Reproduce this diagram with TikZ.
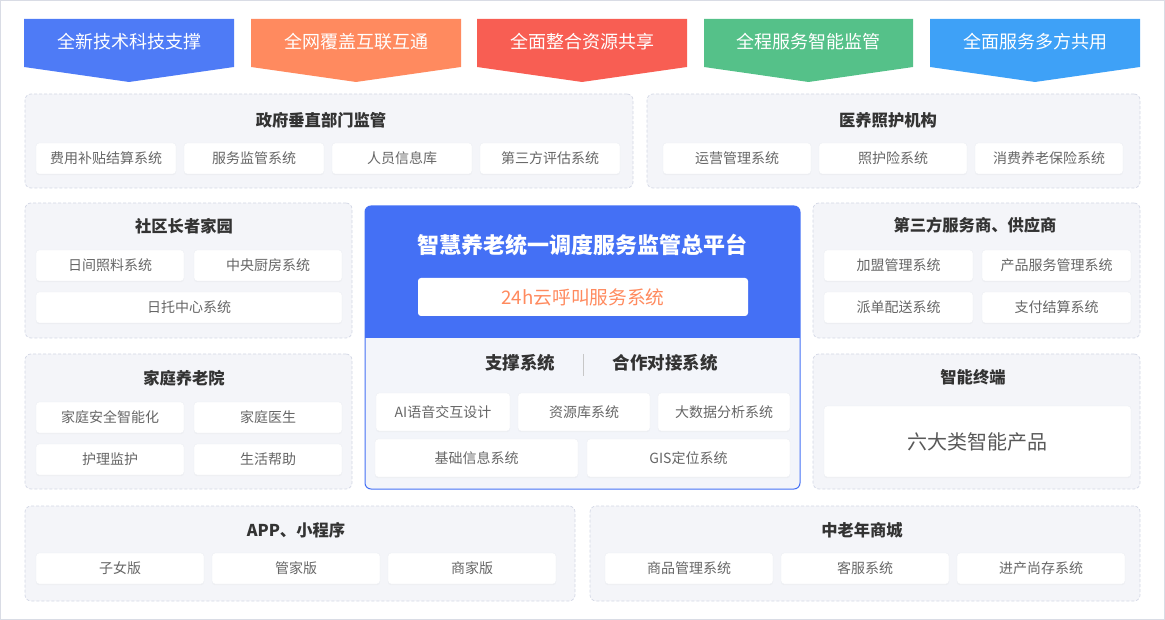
\documentclass[tikz,border=0pt]{standalone}
\usepackage{fontspec}
\setmainfont{Noto Sans CJK SC}
\usetikzlibrary{shadows}
\definecolor{bA}{HTML}{4E7BF6}
\definecolor{bB}{HTML}{FF8A5F}
\definecolor{bC}{HTML}{F85E53}
\definecolor{bD}{HTML}{55C189}
\definecolor{bE}{HTML}{3EA1F7}
\definecolor{cblue}{HTML}{4470F5}
\definecolor{pfill}{HTML}{F4F5F9}
\definecolor{pline}{HTML}{D3D7E5}
\definecolor{outer}{HTML}{D9DCE5}
\definecolor{ttext}{HTML}{333333}
\definecolor{stext}{HTML}{666666}
\definecolor{otext}{HTML}{FF8A5E}
\definecolor{lowfill}{HTML}{F3F5FA}
\definecolor{sline}{HTML}{ECEEF3}
\newcommand\mkbox[7]{%
  \node[#6, minimum width={#4pt-#2pt}, minimum height={#5pt-#3pt}] (#1) at ({(#2+#4)/2},{(#3+#5)/2}) {#7};}
\newcommand\mkbanner[5]{%
  \fill[#4] (#2,19) -- (#3,19) -- (#3,67) -- ({(#2+#3)/2},82) -- (#2,67) -- cycle;
  \node[bannertext] (#1) at ({(#2+#3)/2},42) {#5};}
\begin{document}
\begin{tikzpicture}[x=1pt,y=-1pt,
  panel/.style={draw=pline, fill=pfill, dash pattern=on 3pt off 2pt, line width=0.7pt, rounded corners=6pt, inner sep=0pt, outer sep=0pt},
  subbox/.style={draw=sline, fill=white, line width=0.4pt, rounded corners=3pt, inner sep=0pt, outer sep=0pt, text=stext, font=\fontsize{14}{16}\selectfont,
     drop shadow={opacity=0.05, shadow xshift=0pt, shadow yshift=-1.2pt}},
  ptitle/.style={text=ttext, font=\fontsize{16.3}{19}\selectfont\bfseries, inner sep=0pt},
  bannertext/.style={text=white, font=\fontsize{18}{21}\selectfont, inner sep=0pt},
]
\useasboundingbox (0,0) rectangle (1165,620);
\draw[outer, line width=1pt] (0.5,0.5) rectangle (1164.5,619.5);

% banners
\mkbanner{t1}{24}{234}{bA}{全新技术科技支撑}
\mkbanner{t2}{251}{461}{bB}{全网覆盖互联互通}
\mkbanner{t3}{477}{687}{bC}{全面整合资源共享}
\mkbanner{t4}{704}{913}{bD}{全程服务智能监管}
\mkbanner{t5}{930}{1140}{bE}{全面服务多方共用}

% 政府垂直部门监管
\mkbox{pgov}{25}{94}{633}{188}{panel}{}
\node[ptitle] (tgov) at (321,120) {政府垂直部门监管};
\mkbox{g1}{36}{143}{176}{174}{subbox}{费用补贴结算系统}
\mkbox{g2}{184}{143}{324}{174}{subbox}{服务监管系统}
\mkbox{g3}{332}{143}{472}{174}{subbox}{人员信息库}
\mkbox{g4}{480}{143}{620}{174}{subbox}{第三方评估系统}

% 医养照护机构
\mkbox{pmed}{647}{94}{1140}{188}{panel}{}
\node[ptitle] (tmed) at (888,120) {医养照护机构};
\mkbox{m1}{663}{143}{811}{174}{subbox}{运营管理系统}
\mkbox{m2}{819}{143}{967}{174}{subbox}{照护险系统}
\mkbox{m3}{975}{143}{1123}{174}{subbox}{消费养老保险系统}

% 社区长者家园
\mkbox{pcom}{25}{203}{352}{338}{panel}{}
\node[ptitle] (tcom) at (184,226) {社区长者家园};
\mkbox{c1}{36}{250}{184}{281}{subbox}{日间照料系统}
\mkbox{c2}{194}{250}{342}{281}{subbox}{中央厨房系统}
\mkbox{c3}{36}{292}{342}{323}{subbox}{日托中心系统}

% 家庭养老院
\mkbox{phome}{25}{354}{352}{489}{panel}{}
\node[ptitle] (thome) at (184,378) {家庭养老院};
\mkbox{h1}{36}{402}{184}{433}{subbox}{家庭安全智能化}
\mkbox{h2}{194}{402}{342}{433}{subbox}{家庭医生}
\mkbox{h3}{36}{444}{184}{475}{subbox}{护理监护}
\mkbox{h4}{194}{444}{342}{475}{subbox}{生活帮助}

% 中央平台
\begin{scope}
  \clip[rounded corners=6pt] (365,206) rectangle (800,489);
  \fill[lowfill] (365,206) rectangle (800,489);
  \fill[cblue] (365,206) rectangle (800,338);
\end{scope}
\draw[cblue, rounded corners=6pt, line width=1pt] (365,206) rectangle (800,489);
\node[text=white, font=\fontsize{22}{25}\selectfont\bfseries, inner sep=0pt] (plat) at (582.5,245) {智慧养老统一调度服务监管总平台};
\mkbox{call}{418}{278}{748}{316}{subbox, draw=none, text=otext, font=\fontsize{18.7}{21}\selectfont, drop shadow={opacity=0}}{24h云呼叫服务系统}
\node[text=ttext, font=\fontsize{17.5}{20}\selectfont\bfseries, inner sep=0pt] (zc) at (520,363) {支撑系统};
\node[text=ttext, font=\fontsize{17.5}{20}\selectfont\bfseries, inner sep=0pt] (hz) at (665,363) {合作对接系统};
\coordinate (sepA) at (583,354);
\coordinate (sepB) at (583,376);
\draw[color=black!22, line width=0.8pt] (sepA) -- (sepB);
\mkbox{s1}{376}{393}{510}{431}{subbox}{AI语音交互设计}
\mkbox{s2}{518}{393}{650}{431}{subbox}{资源库系统}
\mkbox{s3}{658}{393}{790}{431}{subbox}{大数据分析系统}
\mkbox{s4}{375}{439}{578}{477}{subbox}{基础信息系统}
\mkbox{s5}{587}{439}{790}{477}{subbox}{GIS定位系统}

% 第三方服务商、供应商
\mkbox{psup}{813}{203}{1140}{338}{panel}{}
\node[ptitle] (tsup) at (975,225) {第三方服务商、供应商};
\mkbox{u1}{824}{250}{973}{281}{subbox}{加盟管理系统}
\mkbox{u2}{982}{250}{1131}{281}{subbox}{产品服务管理系统}
\mkbox{u3}{824}{292}{973}{323}{subbox}{派单配送系统}
\mkbox{u4}{982}{292}{1131}{323}{subbox}{支付结算系统}

% 智能终端
\mkbox{pterm}{813}{354}{1140}{489}{panel}{}
\node[ptitle] (tterm) at (973,377) {智能终端};
\mkbox{k1}{824}{406}{1131}{477}{subbox, text=black!65, font=\fontsize{20}{24}\selectfont}{六大类智能产品}

% APP、小程序
\mkbox{papp}{25}{506}{575}{601}{panel}{}
\node[ptitle] (tapp) at (296,530) {APP、小程序};
\mkbox{a1}{36}{553}{204}{584}{subbox}{子女版}
\mkbox{a2}{212}{553}{380}{584}{subbox}{管家版}
\mkbox{a3}{388}{553}{556}{584}{subbox}{商家版}

% 中老年商城
\mkbox{pmall}{590}{506}{1140}{601}{panel}{}
\node[ptitle] (tmall) at (862,530) {中老年商城};
\mkbox{l1}{605}{553}{773}{584}{subbox}{商品管理系统}
\mkbox{l2}{781}{553}{949}{584}{subbox}{客服系统}
\mkbox{l3}{957}{553}{1125}{584}{subbox}{进产尚存系统}
\end{tikzpicture}
\end{document}
